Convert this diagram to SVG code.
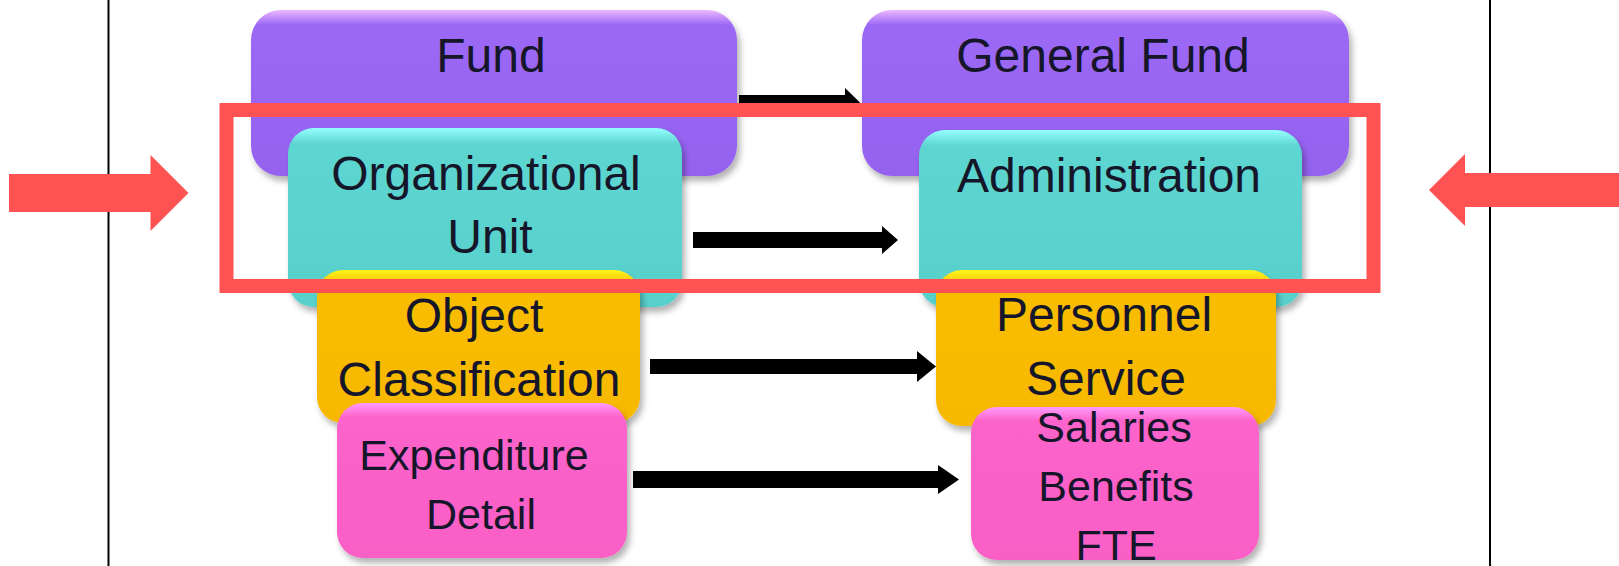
<svg xmlns="http://www.w3.org/2000/svg" width="1619" height="566" viewBox="0 0 1619 566">
<defs>
<linearGradient id="gPurple" x1="0" y1="0" x2="0" y2="1">
<stop offset="0" stop-color="#EDB8FF"/><stop offset="0.09" stop-color="#9B68F5"/><stop offset="1" stop-color="#9562F0"/>
</linearGradient>
<linearGradient id="gTeal" x1="0" y1="0" x2="0" y2="1">
<stop offset="0" stop-color="#95FFFF"/><stop offset="0.09" stop-color="#5DD5D0"/><stop offset="1" stop-color="#58D0CC"/>
</linearGradient>
<linearGradient id="gYellow" x1="0" y1="0" x2="0" y2="1">
<stop offset="0" stop-color="#FFF51A"/><stop offset="0.1" stop-color="#F9BD06"/><stop offset="1" stop-color="#F7B905"/>
</linearGradient>
<linearGradient id="gPink" x1="0" y1="0" x2="0" y2="1">
<stop offset="0" stop-color="#FF9CFF"/><stop offset="0.09" stop-color="#FC63CB"/><stop offset="1" stop-color="#FA5FC6"/>
</linearGradient>
<filter id="sh" x="-10%" y="-10%" width="125%" height="130%">
<feDropShadow dx="3" dy="5" stdDeviation="3" flood-color="#000" flood-opacity="0.3"/>
</filter>
</defs>
<style>
.box{filter:url(#sh);}
.t{font-family:"Liberation Sans",Arial,sans-serif;font-size:48px;fill:#16162a;text-anchor:middle;}
.s{font-size:43px;}
.arr{fill:#000;}
.red{fill:#FF5252;}
.vl{stroke:#000;stroke-width:2;}
</style>
<g id="frame">
<line class="vl" x1="108.5" y1="0" x2="108.5" y2="566"/>
<line class="vl" x1="1490" y1="0" x2="1490" y2="566"/>
</g>
<g id="connector-top">
<polygon class="arr" points="739,95 845,95 845,88 860,102.5 845,117 845,110 739,110"/>
</g>
<g id="fund">
<rect class="box" x="251" y="10" width="486" height="166" rx="30" fill="url(#gPurple)"/>
<text class="t" x="491" y="72">Fund</text>
</g>
<g id="general-fund">
<rect class="box" x="862" y="10" width="487" height="166" rx="30" fill="url(#gPurple)"/>
<text class="t" x="1103" y="72">General Fund</text>
</g>
<g id="organizational-unit">
<rect class="box" x="288" y="128" width="394" height="179" rx="26" fill="url(#gTeal)"/>
<text class="t" x="486" y="190">Organizational</text>
<text class="t" x="490" y="253">Unit</text>
</g>
<g id="administration">
<rect class="box" x="919" y="130" width="383" height="177" rx="26" fill="url(#gTeal)"/>
<text class="t" x="1109" y="192">Administration</text>
</g>
<g id="object-classification">
<rect class="box" x="317" y="270" width="323" height="153" rx="26" fill="url(#gYellow)"/>
<text class="t" x="474" y="332">Object</text>
<text class="t" x="479" y="396">Classification</text>
</g>
<g id="personnel-service">
<rect class="box" x="936" y="270" width="340" height="156" rx="26" fill="url(#gYellow)"/>
<text class="t" x="1104" y="331">Personnel</text>
<text class="t" x="1106" y="395">Service</text>
</g>
<g id="expenditure-detail">
<rect class="box" x="337" y="403" width="290" height="155" rx="26" fill="url(#gPink)"/>
<text class="t s" x="474" y="470">Expenditure</text>
<text class="t s" x="481" y="529">Detail</text>
</g>
<g id="salaries-benefits-fte">
<rect class="box" x="971" y="407" width="288" height="153" rx="26" fill="url(#gPink)"/>
<text class="t s" x="1114" y="442">Salaries</text>
<text class="t s" x="1116" y="501">Benefits</text>
<text class="t s" x="1116" y="560">FTE</text>
</g>
<g id="connectors">
<polygon class="arr" points="693,232 882,232 882,226 898,240 882,254 882,248 693,248"/>
<polygon class="arr" points="650,359 917,359 917,351 936,366.5 917,382 917,374 650,374"/>
<polygon class="arr" points="633,471 938,471 938,465 959,479.5 938,494 938,488 633,488"/>
</g>
<g id="highlight">
<rect x="226.5" y="110" width="1147" height="176" fill="none" stroke="#FF5252" stroke-width="14"/>
<polygon class="red" points="9,174 150.5,174 150.5,155 188.5,193 150.5,231 150.5,212 9,212"/>
<polygon class="red" points="1619,173 1465,173 1465,154 1429,190 1465,226 1465,207 1619,207"/>
</g>
</svg>
